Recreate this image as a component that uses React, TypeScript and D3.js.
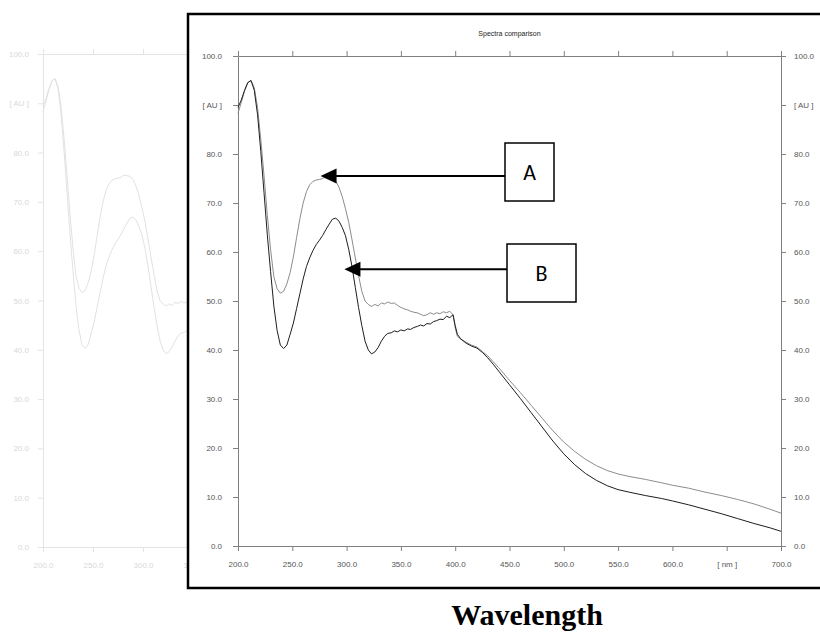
import React, { useEffect, useRef } from 'react';
import * as d3 from 'd3';

// wavelength grid (nm) shared by both spectra
const wavelengths = [
  200, 203, 206, 209, 212, 215, 218, 221, 224, 227, 230, 233, 236, 239, 242, 245, 248, 251, 254, 257,
  260, 263, 266, 269, 272, 275, 278, 281, 284, 287, 290, 293, 296, 299, 302, 305, 308, 311, 314, 317,
  320, 323, 326, 329, 332, 335, 338, 341, 344, 347, 350, 353, 356, 359, 362, 365, 368, 371, 374, 377,
  380, 383, 386, 389, 392, 395, 398, 400, 402, 405, 410, 415, 420, 425, 430, 435, 440, 445, 450, 460,
  470, 480, 490, 500, 510, 520, 530, 540, 550, 560, 575, 590, 600, 615, 630, 645, 660, 675, 690, 700,
];

// spectrum A (grey trace)
const spectrumA = [
  88.3, 90.5, 92.8, 94.5, 95.0, 93.5, 89.5, 83.0, 75.5, 67.5, 60.5, 55.0, 52.5, 51.6, 52.0, 53.5, 55.8, 59.0, 63.0, 66.8,
  70.0, 72.3, 73.7, 74.4, 74.7, 74.8, 75.0, 75.4, 75.3, 75.2, 74.5, 73.2, 71.3, 68.8, 66.0, 62.5, 58.8, 55.2, 52.0, 50.0,
  49.3, 48.9, 49.3, 49.0, 49.6, 49.4, 49.8, 49.5, 49.6, 49.1, 48.7, 48.4, 48.2, 47.9, 47.7, 47.6, 47.3, 47.0, 47.2, 47.6,
  47.3, 47.6, 47.4, 47.8, 47.6, 47.9, 47.2, 44.5, 42.8, 42.2, 41.6, 41.0, 40.6, 39.7, 38.8, 37.6, 36.4, 35.1, 33.8, 31.3,
  28.7, 26.1, 23.5, 21.2, 19.3, 17.7, 16.4, 15.4, 14.7, 14.2, 13.6, 12.9, 12.4, 11.8, 11.0, 10.3, 9.5, 8.6, 7.5, 6.7,
];

// spectrum B (black trace)
const spectrumB = [
  89.5, 91.0, 93.0, 94.6, 95.0, 93.0, 88.0, 80.5, 72.0, 63.5, 56.0, 49.0, 44.0, 41.0, 40.3, 41.0, 43.2, 45.5, 48.5, 51.5,
  54.5, 57.0, 58.8, 60.3, 61.5, 62.4, 63.4, 64.6, 65.7, 66.7, 66.9, 66.3, 65.0, 63.3, 60.5, 57.0, 52.8, 48.7, 45.0, 41.8,
  40.0, 39.2, 39.6, 40.5, 41.8, 42.8, 43.4, 43.5, 43.9, 43.7, 44.1, 43.9, 44.3, 44.2, 44.6, 44.8, 45.1, 44.9, 45.4, 45.3,
  45.8, 46.0, 46.3, 46.2, 46.9, 46.6, 47.2, 45.0, 43.2, 42.3, 41.4, 40.8, 40.4, 39.5, 38.4, 37.1, 35.7, 34.3, 32.9, 30.1,
  27.2, 24.3, 21.4, 18.8, 16.6, 14.8, 13.4, 12.3, 11.5, 11.0, 10.3, 9.7, 9.2, 8.4, 7.5, 6.6, 5.6, 4.6, 3.7, 3.0,
];

const xTicks = [200, 250, 300, 350, 400, 450, 500, 550, 600, 650, 700];
const ghostXTicks = [200, 250, 300, 350];
const yTicks = [0, 10, 20, 30, 40, 50, 60, 70, 80, 90, 100];
const xUnitLabel = '[ nm ]';
const yUnitLabel = '[ AU ]';
const chartTitle = 'Spectra comparison';
const axisTitle = 'Wavelength';

const callouts = [
  { label: 'A', nm: 276, value: 75.5 },
  { label: 'B', nm: 298, value: 56.5 },
];

const App = () => {
  const ref = useRef<SVGSVGElement>(null);

  useEffect(() => {
    const width = 820;
    const height = 633;
    const svg = d3.select(ref.current).attr('width', width).attr('height', height);
    svg.selectAll('*').remove();

    const font = "'Liberation Sans', Arial, sans-serif";
    const pts = wavelengths.map((w, i) => ({ w, a: spectrumA[i], b: spectrumB[i] }));
    const fmt = (v: number) => v.toFixed(1);

    // faded copy of the plot peeking out on the left
    svg.append('clipPath').attr('id', 'ghostClip')
      .append('rect').attr('x', 0).attr('y', 0).attr('width', 187).attr('height', height);
    const ghost = svg.append('g').attr('clip-path', 'url(#ghostClip)');

    const gx = d3.scaleLinear().domain([200, 700]).range([43, 543]);
    const gy = d3.scaleLinear().domain([0, 100]).range([547, 54]);
    const ghostCol = '#e4e4e4';
    ghost.append('g').attr('transform', 'translate(43,0)')
      .call(d3.axisLeft(gy).tickValues(yTicks).tickSize(5).tickFormat(d => (d === 90 ? yUnitLabel : fmt(+d))))
      .call(g => g.select('.domain').attr('stroke', ghostCol))
      .call(g => g.selectAll('line').attr('stroke', ghostCol))
      .call(g => g.selectAll('text').attr('fill', '#d8d8d8').attr('font-family', font).attr('font-size', 8).attr('x', -14));
    ghost.append('g').attr('transform', 'translate(0,547)')
      .call(d3.axisBottom(gx).tickValues(ghostXTicks).tickSize(5).tickSizeOuter(0).tickFormat(d => fmt(+d)))
      .call(g => g.select('.domain').attr('stroke', ghostCol))
      .call(g => g.selectAll('line').attr('stroke', ghostCol))
      .call(g => g.selectAll('text').attr('fill', '#d8d8d8').attr('font-family', font).attr('font-size', 8).attr('y', 15));
    ghost.append('g').attr('transform', 'translate(0,54)')
      .call(d3.axisTop(gx).tickValues(ghostXTicks).tickSize(5).tickSizeOuter(0).tickFormat(() => ''))
      .call(g => g.select('.domain').attr('stroke', ghostCol))
      .call(g => g.selectAll('line').attr('stroke', ghostCol));
    const ghostLine = (key: 'a' | 'b') => d3.line<any>().x(d => gx(d.w)).y(d => gy(d[key]));
    const ghostPts = pts.filter(d => d.w <= 350);
    ghost.append('path').datum(ghostPts).attr('d', ghostLine('a')).attr('fill', 'none').attr('stroke', '#e2e2e2');
    ghost.append('path').datum(ghostPts).attr('d', ghostLine('b')).attr('fill', 'none').attr('stroke', '#e2e2e2');

    // main framed chart
    svg.append('rect').attr('x', 188).attr('y', 14).attr('width', 660).attr('height', 574)
      .attr('fill', '#fff').attr('stroke', '#000').attr('stroke-width', 2.5);

    const x = d3.scaleLinear().domain([200, 700]).range([238, 781]);
    const y = d3.scaleLinear().domain([0, 100]).range([546, 56]);
    const axisCol = '#808080';
    const styleAxis = (g: any) => {
      g.select('.domain').attr('stroke', axisCol);
      g.selectAll('line').attr('stroke', axisCol);
      g.selectAll('text').attr('fill', '#555').attr('font-family', font).attr('font-size', 8);
    };

    svg.append('g').attr('transform', 'translate(238,0)')
      .call(d3.axisLeft(y).tickValues(yTicks).tickSize(5).tickSizeOuter(0).tickFormat(d => (d === 90 ? yUnitLabel : fmt(+d))))
      .call(styleAxis)
      .call(g => g.selectAll('text').attr('x', -16));
    svg.append('g').attr('transform', 'translate(781,0)')
      .call(d3.axisRight(y).tickValues(yTicks).tickSize(5).tickSizeOuter(0).tickFormat(d => (d === 90 ? yUnitLabel : fmt(+d))))
      .call(styleAxis)
      .call(g => g.selectAll('text').attr('x', 13));
    svg.append('g').attr('transform', 'translate(0,546)')
      .call(d3.axisBottom(x).tickValues(xTicks).tickSize(5).tickSizeOuter(0).tickFormat(d => (d === 650 ? xUnitLabel : fmt(+d))))
      .call(styleAxis)
      .call(g => g.selectAll('text').attr('y', 15));
    svg.append('g').attr('transform', 'translate(0,56)')
      .call(d3.axisTop(x).tickValues(xTicks).tickSize(5).tickSizeOuter(0).tickFormat(() => ''))
      .call(styleAxis);

    svg.append('text').attr('x', (238 + 781) / 2).attr('y', 36).attr('text-anchor', 'middle')
      .attr('font-family', font).attr('font-size', 7).attr('fill', '#222').text(chartTitle);

    const line = (key: 'a' | 'b') => d3.line<any>().x(d => x(d.w)).y(d => y(d[key]));
    svg.append('path').datum(pts).attr('d', line('a')).attr('fill', 'none').attr('stroke', '#8c8c8c').attr('stroke-width', 1);
    svg.append('path').datum(pts).attr('d', line('b')).attr('fill', 'none').attr('stroke', '#1e1e1e').attr('stroke-width', 1);

    // callout boxes with arrows
    const boxes = [
      { x0: 505, y0: 143, w: 49, h: 58 },
      { x0: 507, y0: 244, w: 69, h: 58 },
    ];
    callouts.forEach((c, i) => {
      const b = boxes[i];
      const tx = x(c.nm);
      const ty = y(c.value);
      svg.append('line').attr('x1', tx + 12).attr('y1', ty).attr('x2', b.x0).attr('y2', ty)
        .attr('stroke', '#000').attr('stroke-width', 2);
      svg.append('path').attr('d', `M${tx},${ty} L${tx + 16},${ty - 7.5} L${tx + 16},${ty + 7.5} Z`).attr('fill', '#000');
      svg.append('rect').attr('x', b.x0).attr('y', b.y0).attr('width', b.w).attr('height', b.h)
        .attr('fill', '#fff').attr('stroke', '#000').attr('stroke-width', 1.5);
      svg.append('text').attr('x', b.x0 + b.w / 2).attr('y', b.y0 + b.h / 2 + 8).attr('text-anchor', 'middle')
        .attr('font-family', "'Carlito', 'Open Sans', sans-serif").attr('font-size', 22).attr('fill', '#000').text(c.label);
    });

    svg.append('text').attr('x', 527).attr('y', 625).attr('text-anchor', 'middle')
      .attr('font-family', "'Liberation Serif', 'Times New Roman', serif").attr('font-weight', 'bold')
      .attr('font-size', 30).attr('fill', '#000').text(axisTitle);
  }, []);

  return <svg ref={ref} style={{ position: 'absolute', left: 0, top: 0 }} />;
};

export default App;
